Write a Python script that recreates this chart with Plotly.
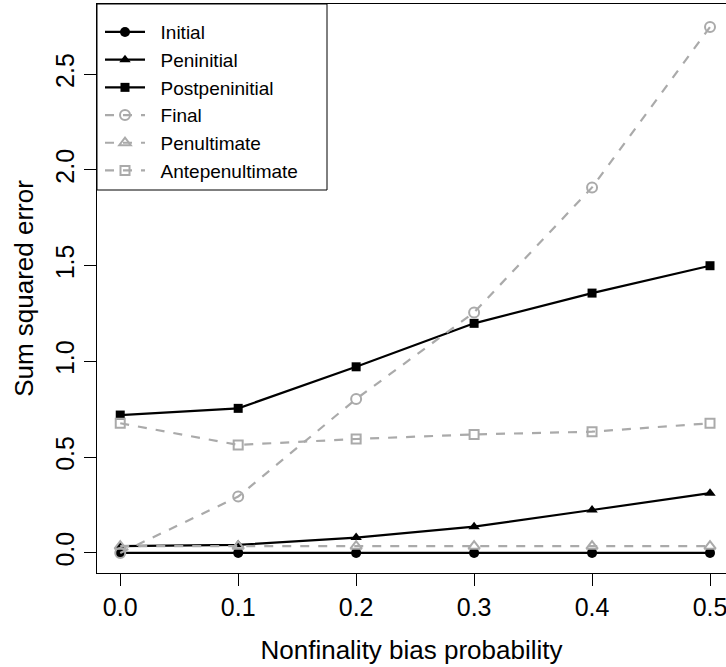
import plotly.graph_objects as go

x_vals = [0.0, 0.1, 0.2, 0.3, 0.4, 0.5]

initial = [0.0, 0.0, 0.0, 0.0, 0.0, 0.0]
peninitial = [0.035, 0.042, 0.08, 0.137, 0.224, 0.312]
postpeninitial = [0.72, 0.755, 0.972, 1.199, 1.357, 1.500]
final = [0.0, 0.294, 0.804, 1.256, 1.909, 2.747]
penultimate = [0.035, 0.035, 0.035, 0.035, 0.035, 0.035]
antepenultimate = [0.677, 0.564, 0.595, 0.619, 0.633, 0.677]

x_ticks = [0.0, 0.1, 0.2, 0.3, 0.4, 0.5]
x_tick_labels = ["0.0", "0.1", "0.2", "0.3", "0.4", "0.5"]
y_ticks = [0.0, 0.5, 1.0, 1.5, 2.0, 2.5]
y_tick_labels = ["0.0", "0.5", "1.0", "1.5", "2.0", "2.5"]

GREY = "#aaaaaa"
FONT = "Liberation Sans, Arial, Helvetica, sans-serif"
NB = "\u00a0\u00a0"

series = [
    ("Initial", initial, "black", "solid", "circle"),
    ("Peninitial", peninitial, "black", "solid", "triangle-up"),
    ("Postpeninitial", postpeninitial, "black", "solid", "square"),
    ("Final", final, GREY, "dash", "circle-open"),
    ("Penultimate", penultimate, GREY, "dash", "triangle-up-open"),
    ("Antepenultimate", antepenultimate, GREY, "dash", "square-open"),
]

fig = go.Figure()
for name, ys, color, dash, sym in series:
    fig.add_trace(go.Scatter(
        x=x_vals, y=ys, name=NB + name, mode="lines+markers",
        line=dict(color=color, width=2.2, dash=dash),
        marker=dict(symbol=sym, size=10 if "square" not in sym else 9, color=color,
                    line=dict(color=color, width=2 if "open" in sym else 0)),
    ))

W, H = 726, 667
L, T, B, R = 97, 4, 94, 0
pw = W - L - R
ph = H - T - B

fig.add_shape(type="rect", xref="paper", yref="paper",
              x0=0, x1=(327 - L) / pw, y0=(T + ph - 190) / ph, y1=1,
              line=dict(color="black", width=1), fillcolor="white", layer="below")

fig.update_layout(
    width=W, height=H,
    margin=dict(l=L, r=R, t=T, b=B, pad=0),
    paper_bgcolor="white", plot_bgcolor="white",
    font=dict(family=FONT, color="black"),
    showlegend=True,
    legend=dict(x=(100 - L) / pw, y=0.984, xanchor="left", yanchor="top",
                bgcolor="rgba(0,0,0,0)", borderwidth=0,
                font=dict(size=19, family=FONT), itemwidth=40,
                tracegroupgap=0),
    xaxis=dict(range=[-0.0197, (W - 120) / 1180], tickvals=x_ticks, ticktext=x_tick_labels,
               showgrid=False, zeroline=False, showline=True, linecolor="black", linewidth=1,
               mirror=True, ticks="outside", ticklen=12, tickcolor="black",
               ticklabeloverflow="allow",
               tickfont=dict(size=25, family=FONT), automargin=False,
               title=dict(text="Nonfinality bias probability", font=dict(size=26, family=FONT), standoff=20)),
    yaxis=dict(range=[-0.105, 2.867], tickvals=y_ticks, ticktext=y_tick_labels,
               showgrid=False, zeroline=False, showline=True, linecolor="black", linewidth=1,
               mirror=False, ticks="outside", ticklen=12, tickcolor="black", tickangle=-90,
               tickfont=dict(size=25, family=FONT), automargin=False,
               title=dict(text="Sum squared error", font=dict(size=26, family=FONT), standoff=9)),
)

fig.write_html("out.html", config={"displayModeBar": False},
               post_script="document.body.style.margin='0px';")
